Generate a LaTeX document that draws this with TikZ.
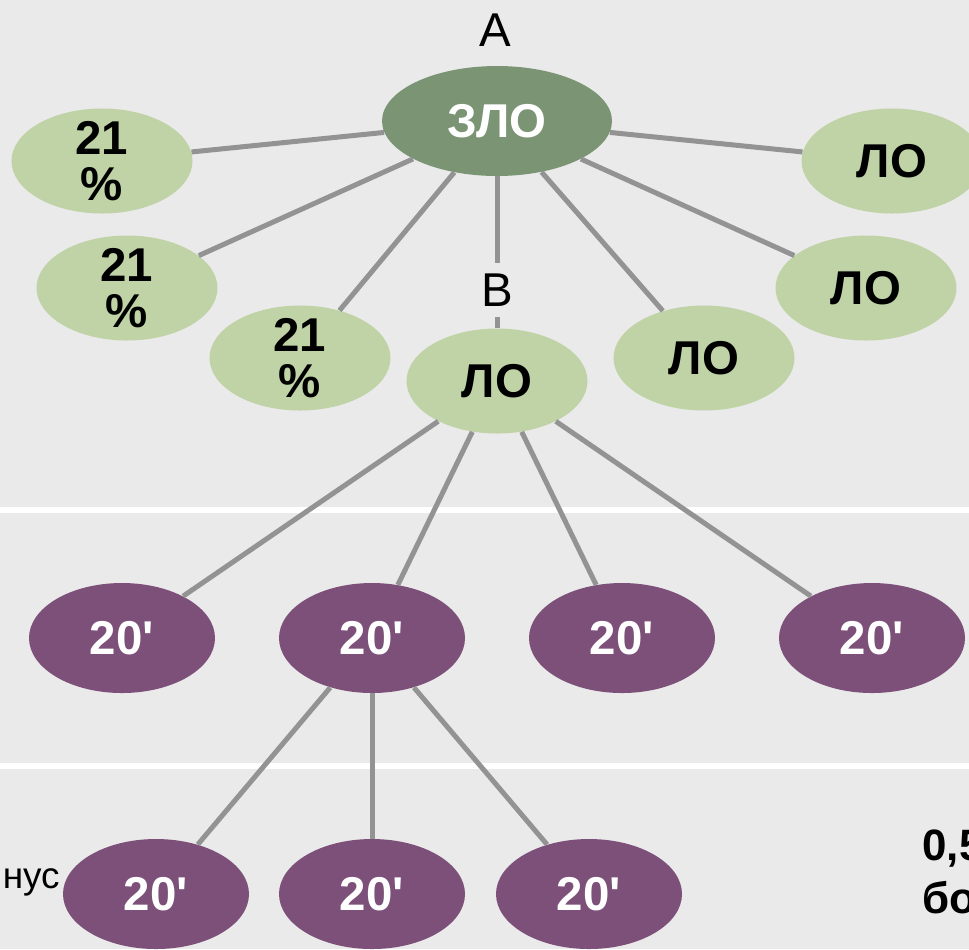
\documentclass[tikz,border=0pt]{standalone}
\usepackage{fontspec}
\newfontfamily\arialfont{Liberation Sans}
\usetikzlibrary{shapes.geometric}

\definecolor{bggray}{RGB}{234,234,234}
\definecolor{linegray}{RGB}{147,147,147}
\definecolor{leafgreen}{RGB}{191,211,166}
\definecolor{rootgreen}{RGB}{123,149,116}
\definecolor{plum}{RGB}{125,80,122}

\begin{document}
\begin{tikzpicture}[
    bigtext/.style={font=\arialfont\fontsize{27}{26}\selectfont\bfseries},
    leaf/.style={ellipse, fill=leafgreen, minimum width=3.62cm, minimum height=2.1cm,
      inner sep=-4pt, align=center, bigtext},
    root/.style={leaf, fill=rootgreen, text=white, minimum width=4.6cm, minimum height=2.2cm},
    twenty/.style={leaf, fill=plum, text=white, minimum width=3.72cm, minimum height=2.2cm},
    lbl/.style={font=\arialfont\fontsize{27}{30}\selectfont, inner sep=0.2cm},
    sidetext/.style={font=\arialfont\fontsize{21}{24}\selectfont, inner sep=0pt},
    sidebold/.style={font=\arialfont\fontsize{25}{30}\selectfont\bfseries, inner sep=0pt}
  ]

  \useasboundingbox (0,0) rectangle (19.38,-18.98);
  \fill[bggray] (0,0) rectangle (19.38,-18.98);
  % white bands between the levels
  \fill[white] (0,-10.14) rectangle (19.38,-10.26);
  \fill[white] (0,-15.26) rectangle (19.38,-15.38);

  \node[lbl]    (A)   at (9.90,-0.60)  {A};
  \node[root]   (zlo) at (9.94,-2.42)  {ЗЛО};
  \node[leaf]   (p1)  at (2.04,-3.22)  {21\\\%};
  \node[leaf]   (p2)  at (2.54,-5.76)  {21\\\%};
  \node[leaf]   (p3)  at (6.00,-7.16)  {21\\\%};
  \node[lbl]    (B)   at (9.94,-5.80)  {B};
  \node[leaf]   (lob) at (9.94,-7.62)  {ЛО};
  \node[leaf]   (lo1) at (14.08,-7.16) {ЛО};
  \node[leaf]   (lo2) at (17.32,-5.76) {ЛО};
  \node[leaf]   (lo3) at (17.84,-3.22) {ЛО};

  \node[twenty] (t1)  at (2.44,-12.76)  {20'};
  \node[twenty] (t2)  at (7.44,-12.76)  {20'};
  \node[twenty] (t3)  at (12.44,-12.76) {20'};
  \node[twenty] (t4)  at (17.44,-12.76) {20'};

  \node[twenty] (u1)  at (3.12,-17.88)  {20'};
  \node[twenty] (u2)  at (7.44,-17.88)  {20'};
  \node[twenty] (u3)  at (11.78,-17.88) {20'};

  \node[sidetext, anchor=base east] (nus)  at (1.20,-17.76) {нус};
  \node[sidebold, anchor=base west] (half) at (18.44,-17.20) {0,5};
  \node[sidebold, anchor=base west] (bo)   at (18.44,-18.26) {бо};

  \begin{scope}[every edge/.style={draw=linegray, line width=0.1cm}]
    \path (zlo) edge (p1);
    \path (zlo) edge (p2);
    \path (zlo) edge (p3);
    \path (zlo) edge (B);
    \path (B)   edge (lob);
    \path (zlo) edge (lo1);
    \path (zlo) edge (lo2);
    \path (zlo) edge (lo3);
    \path (lob) edge (t1);
    \path (lob) edge (t2);
    \path (lob) edge (t3);
    \path (lob) edge (t4);
    \path (t2)  edge (u1);
    \path (t2)  edge (u2);
    \path (t2)  edge (u3);
  \end{scope}

\end{tikzpicture}
\end{document}
